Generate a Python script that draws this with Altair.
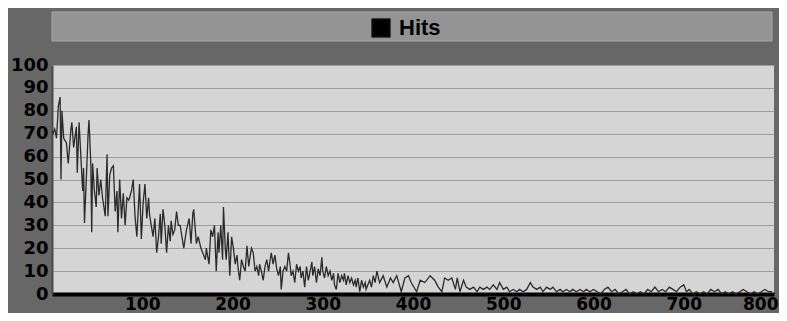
import altair as alt
import pandas as pd

# ---- data ----
xs1 = [0, 1, 3, 5, 7, 9, 10, 11, 13, 16, 18, 21, 22, 24, 27, 28, 30, 32, 34, 35, 36, 38, 40, 41, 43, 44, 45, 47, 49, 50,
       52, 54, 56, 59, 61, 62, 64, 66, 68, 70, 72, 73, 75, 77, 79, 81, 83, 85, 86, 88, 90, 92, 94, 96, 97, 99,
       101, 103, 105, 107, 108, 110, 112, 114, 116, 118, 120, 121, 123, 125, 127, 129, 131, 132, 134, 136, 138, 140]
ys1 = [71, 70, 72, 68, 82, 86, 50, 80, 68, 66, 57, 72, 75, 64, 73, 53, 75, 60, 45, 55, 31, 50, 70, 76, 57, 27, 57, 45, 38, 55,
       43, 50, 42, 34, 61, 34, 52, 55, 56, 36, 45, 27, 50, 33, 44, 30, 42, 41, 42, 45, 50, 34, 25, 40, 48, 24,
       40, 48, 33, 42, 35, 30, 25, 33, 18, 25, 35, 22, 37, 30, 18, 30, 23, 32, 26, 28, 36, 30]

xs2 = [142, 144, 146, 149, 152, 154, 156, 157, 160, 162, 165, 167, 170, 171, 174, 176, 178, 180, 182, 184,
       185, 187, 189, 190, 192, 193, 195, 197, 199, 201, 203, 205, 206, 208, 210, 212, 214, 216, 218, 219,
       221, 223, 225, 227, 229, 230, 232, 234, 236, 238, 240, 241, 243, 245, 247, 249, 251, 253, 254, 256,
       258, 260, 262, 264, 265, 267, 269, 271, 273, 275, 276, 278, 280, 282, 284, 286, 288, 289, 291, 293,
       295, 297, 299, 300, 302, 304, 306, 308, 310, 312, 313, 315, 317, 319, 321, 323, 324, 326, 328, 330,
       332, 334, 336, 337, 339, 341, 343, 345, 347, 348, 350, 352, 354, 356, 358, 360]
ys2 = [30, 25, 20, 28, 33, 22, 35, 37, 22, 25, 20, 18, 15, 20, 13, 28, 25, 30, 10, 27,
       18, 30, 15, 38, 20, 15, 27, 8, 25, 20, 13, 17, 12, 6, 15, 12, 10, 21, 12, 15,
       20, 18, 10, 12, 8, 13, 10, 6, 12, 15, 10, 13, 18, 13, 17, 11, 8, 12, 2, 10,
       12, 10, 18, 12, 8, 10, 5, 13, 10, 12, 7, 10, 3, 12, 6, 10, 14, 8, 12, 5,
       11, 8, 16, 10, 7, 12, 8, 10, 6, 9, 4, 2, 9, 5, 8, 6, 9, 4, 8, 5,
       7, 4, 6, 3, 7, 1, 6, 3, 5, 2, 4, 6, 3, 8, 5, 10]

xs3 = [363, 367, 371, 375, 378, 382, 387, 391, 395, 398, 404, 408, 413, 419, 424, 428, 432, 435, 439, 443,
       447, 449, 452, 456, 459, 463, 467, 471, 474, 478, 482, 485, 489, 493, 496, 500, 504, 507, 511, 515,
       518, 522, 526, 530, 533, 537, 541, 544, 548, 552, 555, 559, 563, 566, 570, 574, 577, 581, 585, 589, 592]
ys3 = [5, 8, 3, 7, 5, 8, 1, 7, 8, 5, 1, 6, 5, 8, 6, 3, 1, 7, 6, 7,
       2, 7, 1, 6, 3, 2, 3, 1, 3, 2, 3, 2, 4, 2, 5, 2, 3, 1, 2, 1,
       2, 1, 2, 5, 3, 2, 3, 1, 3, 2, 3, 1, 2, 1, 2, 1, 2, 1, 2, 1, 2]

xs4 = [596, 600, 604, 608, 612, 616, 620, 624, 628, 632, 636, 640, 644, 648, 652, 656, 660, 664, 668, 672,
       676, 680, 684, 688, 692, 696, 700, 703, 706, 710, 714, 718, 722, 726, 730, 734, 738, 742, 746, 750,
       754, 758, 762, 766, 770, 774, 778, 782, 786, 790, 794, 798]
ys4 = [1, 2, 1, 0, 2, 3, 1, 2, 0, 1, 2, 0, 1, 0, 1, 0, 2, 1, 3, 1,
       2, 1, 3, 2, 1, 3, 4, 1, 2, 0, 1, 0, 1, 0, 2, 1, 2, 0, 1, 0,
       1, 0, 1, 2, 1, 0, 1, 0, 1, 2, 1, 1]

series_name = "Hits"
x_ticks = [100, 200, 300, 400, 500, 600, 700, 800]
y_ticks = [0, 10, 20, 30, 40, 50, 60, 70, 80, 90, 100]

df = pd.DataFrame({
    "x": xs1 + xs2 + xs3 + xs4,
    "y": ys1 + ys2 + ys3 + ys4,
})
df["series"] = series_name

W, H = 722, 229
LABEL_FONT = "DejaVu Sans"

header = alt.Chart(pd.DataFrame({"a": [0]})).mark_rect(
    color="#939393", stroke="#a8a8a8", strokeWidth=1
).encode(x=alt.value(0), x2=alt.value(720), y=alt.value(-53), y2=alt.value(-24))

line = alt.Chart(df).mark_line(strokeWidth=1.3, clip=True).encode(
    x=alt.X("x:Q", scale=alt.Scale(domain=[0, 800], nice=False, zero=False),
            axis=alt.Axis(values=x_ticks, title=None, grid=False, ticks=False,
                          labelFont=LABEL_FONT, labelFontSize=17, labelFontWeight="bold",
                          labelColor="#000", domainColor="#000", domainWidth=4,
                          labelBaseline="alphabetic", labelPadding=15,
                          labelFlush=True, labelFlushOffset=4, labelOverlap=False)),
    y=alt.Y("y:Q", scale=alt.Scale(domain=[0, 100], nice=False),
            axis=alt.Axis(values=y_ticks, title=None, grid=True, gridColor="#9e9e9e",
                          gridWidth=1, ticks=False,
                          labelFont=LABEL_FONT, labelFontSize=18, labelFontWeight="bold",
                          labelColor="#000", domainColor="#4a4a4a", domainWidth=2,
                          labelPadding=4, labelOverlap=False)),
    color=alt.Color("series:N", scale=alt.Scale(domain=[series_name], range=["#2a2a2a"]),
                    legend=alt.Legend(orient="none", legendX=318, legendY=-48, title=None,
                                      symbolType="square", symbolSize=340,
                                      symbolFillColor="#000", symbolStrokeColor="#000",
                                      symbolStrokeWidth=1,
                                      labelFont="Liberation Sans", labelFontSize=22,
                                      labelFontWeight="bold", labelColor="#000",
                                      labelOffset=7, padding=0)),
)

chart = alt.layer(header, line).properties(
    width=W, height=H, background="#676767",
    padding={"left": 44, "top": 57, "right": 5, "bottom": 19},
    autosize=alt.AutoSizeParams(type="none"),
).configure_view(fill="#d5d5d5", stroke=None)

chart.save("out.html", embed_options={"renderer": "svg", "actions": False})
